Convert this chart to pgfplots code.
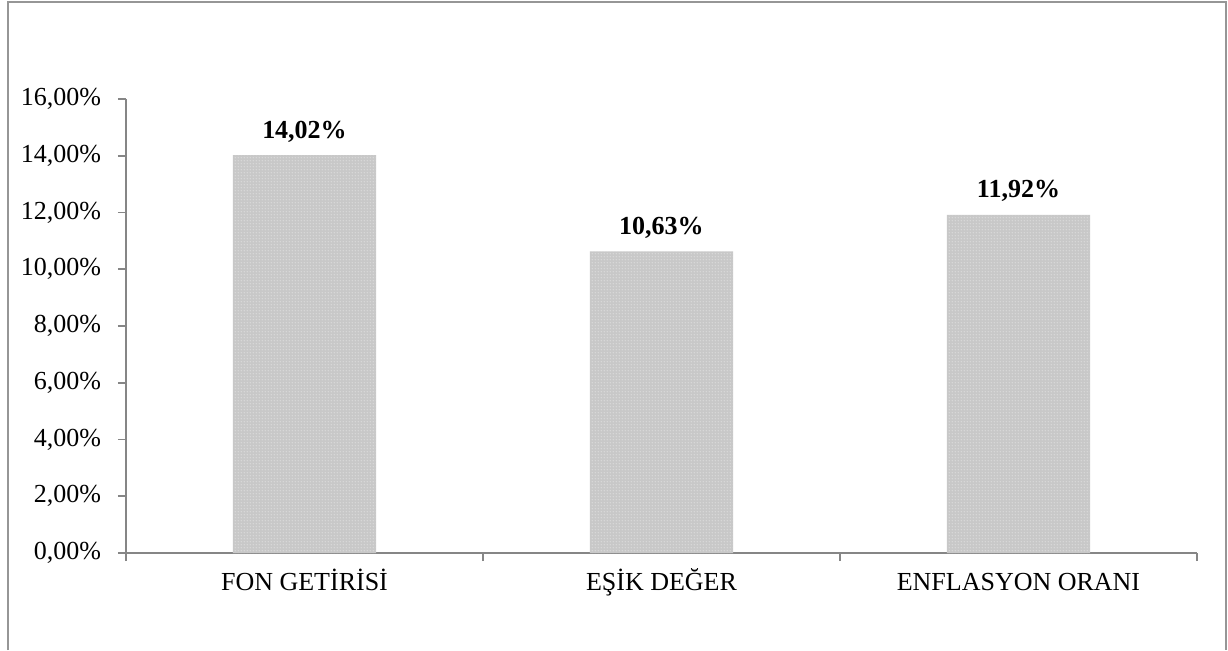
\documentclass[border=0pt]{standalone}
\usepackage{fontspec}
\setmainfont{Liberation Serif}
\usepackage{pgfplots}
\pgfplotsset{compat=1.18}
\usetikzlibrary{patterns.meta}
\definecolor{axisgray}{RGB}{134,134,134}
\definecolor{bargray}{RGB}{200,200,200}
\definecolor{framegray}{RGB}{150,150,150}
\tikzdeclarepattern{
  name=mydots,
  type=uncolored,
  bounding box={(0,0) and (1.5pt,1.5pt)},
  tile size={(1.5pt,1.5pt)},
  code={\fill (0.75pt,0.75pt) circle (0.33pt);}
}
\begin{document}
\begin{tikzpicture}[font=\fontsize{13}{15}\selectfont]
\useasboundingbox (0,0) rectangle (614pt,325pt);
\draw[framegray, line width=1pt] (4pt,0) -- (4pt,324pt) -- (613pt,324pt) -- (613pt,0);
\begin{axis}[
  at={(63pt,48.5pt)}, anchor=south west,
  scale only axis, width=535.5pt, height=227pt,
  axis x line*=bottom, axis y line*=left,
  axis line style={axisgray, line width=0.8pt, -},
  xmin=-0.5, xmax=2.5, ymin=0, ymax=16,
  ytick={0,2,...,16},
  /pgf/number format/assume math mode=true,
  yticklabel={\pgfmathprintnumber[fixed,fixed zerofill,precision=2,use comma]{\tick}\%},
  yticklabel style={xshift=-5pt},
  xtick={-0.5,0.5,1.5,2.5}, xticklabels={},
  extra x ticks={0,1,2},
  extra x tick labels={FON GETİRİSİ, EŞİK DEĞER, ENFLASYON ORANI},
  extra x tick style={major tick length=0pt, tick label style={anchor=base, yshift=-18.5pt}},
  tick align=outside, major tick length=4pt,
  tick style={axisgray, line width=0.8pt},
  every tick label/.append style={font=\fontsize{13}{15}\selectfont},
  ybar, bar width=71.5pt,
  nodes near coords={\pgfmathprintnumber[fixed,fixed zerofill,precision=2,use comma]{\pgfplotspointmeta}\%},
  every node near coord/.append style={font=\fontsize{13}{15}\selectfont\bfseries, anchor=base, yshift=8.5pt, text=black},
]
\addplot[draw=none, fill=bargray, postaction={pattern=mydots, pattern color=white}] coordinates {(0,14.02) (1,10.63) (2,11.92)};
\end{axis}
\end{tikzpicture}
\end{document}
